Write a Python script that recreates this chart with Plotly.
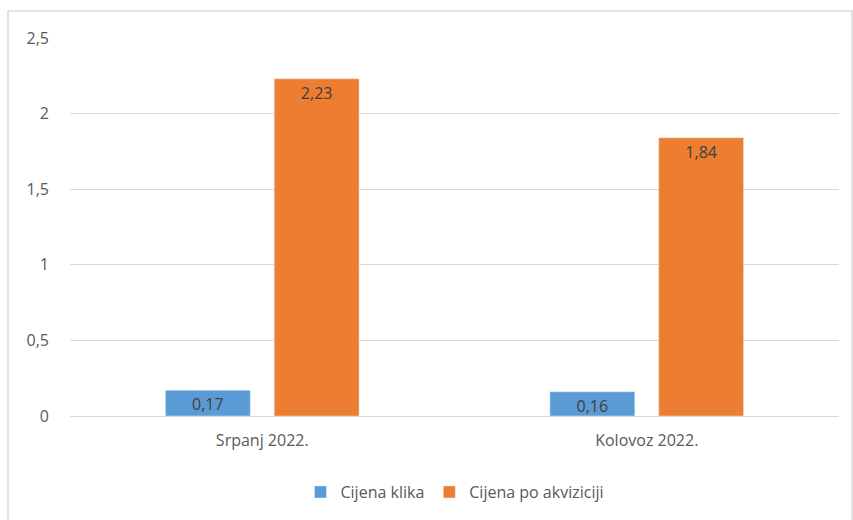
import plotly.graph_objects as go

categories = ["Srpanj 2022.", "Kolovoz 2022."]
cijena_klika = [0.17, 0.16]
cijena_po_akviziciji = [2.23, 1.84]
y_ticks = [0, 0.5, 1, 1.5, 2, 2.5]
y_tick_labels = ["0", "0,5", "1", "1,5", "2", "2,5"]

def fmt(v):
    return f"{v:.2f}".replace(".", ",")

FONT = "Open Sans"
fig = go.Figure()
fig.add_trace(go.Bar(
    x=categories, y=cijena_klika, name="Cijena klika",
    marker_color="#5B9BD5",
    text=[fmt(v) for v in cijena_klika], textposition="inside",
    insidetextanchor="end", textangle=0, constraintext="none",
    textfont=dict(color="#404040", size=16, family=FONT),
))
fig.add_trace(go.Bar(
    x=categories, y=cijena_po_akviziciji, name="Cijena po akviziciji",
    marker_color="#ED7D31",
    text=[fmt(v) for v in cijena_po_akviziciji], textposition="inside",
    insidetextanchor="end", textangle=0, constraintext="none",
    textfont=dict(color="#404040", size=16, family=FONT),
))

fig.update_layout(
    width=853, height=520,
    margin=dict(l=70, r=14, t=38, b=104, autoexpand=False),
    paper_bgcolor="white", plot_bgcolor="white",
    barmode="group", bargap=0.434, bargroupgap=0.22,
    separators=",.",
    font=dict(family=FONT, color="#595959", size=16),
    showlegend=True,
    legend=dict(orientation="h", x=0.5, xanchor="center",
                yref="container", y=1 - 492 / 520, yanchor="middle",
                font=dict(size=16, color="#595959"), traceorder="normal"),
    xaxis=dict(showgrid=False, showline=True, linecolor="#d9d9d9", linewidth=1,
               ticks="", tickfont=dict(size=16, color="#595959"), automargin=False,
               ticklabelstandoff=10),
    yaxis=dict(range=[0, 2.5], tickvals=y_ticks, ticktext=y_tick_labels,
               showgrid=True, gridcolor="#d9d9d9", gridwidth=1,
               zeroline=False, showline=False, ticks="", automargin=False,
               tickfont=dict(size=16, color="#595959"), ticklabelstandoff=20),
    shapes=[dict(type="rect", xref="paper", yref="paper",
                 x0=(8 - 70) / 769, x1=(852 - 70) / 769,
                 y0=(416 - 530) / 378, y1=1 + (38 - 11) / 378,
                 line=dict(color="#d9d9d9", width=1.5), fillcolor="rgba(0,0,0,0)",
                 layer="below")],
)
fig.write_html("out.html", config={"displayModeBar": False},
               post_script="document.body.style.margin='0';")
